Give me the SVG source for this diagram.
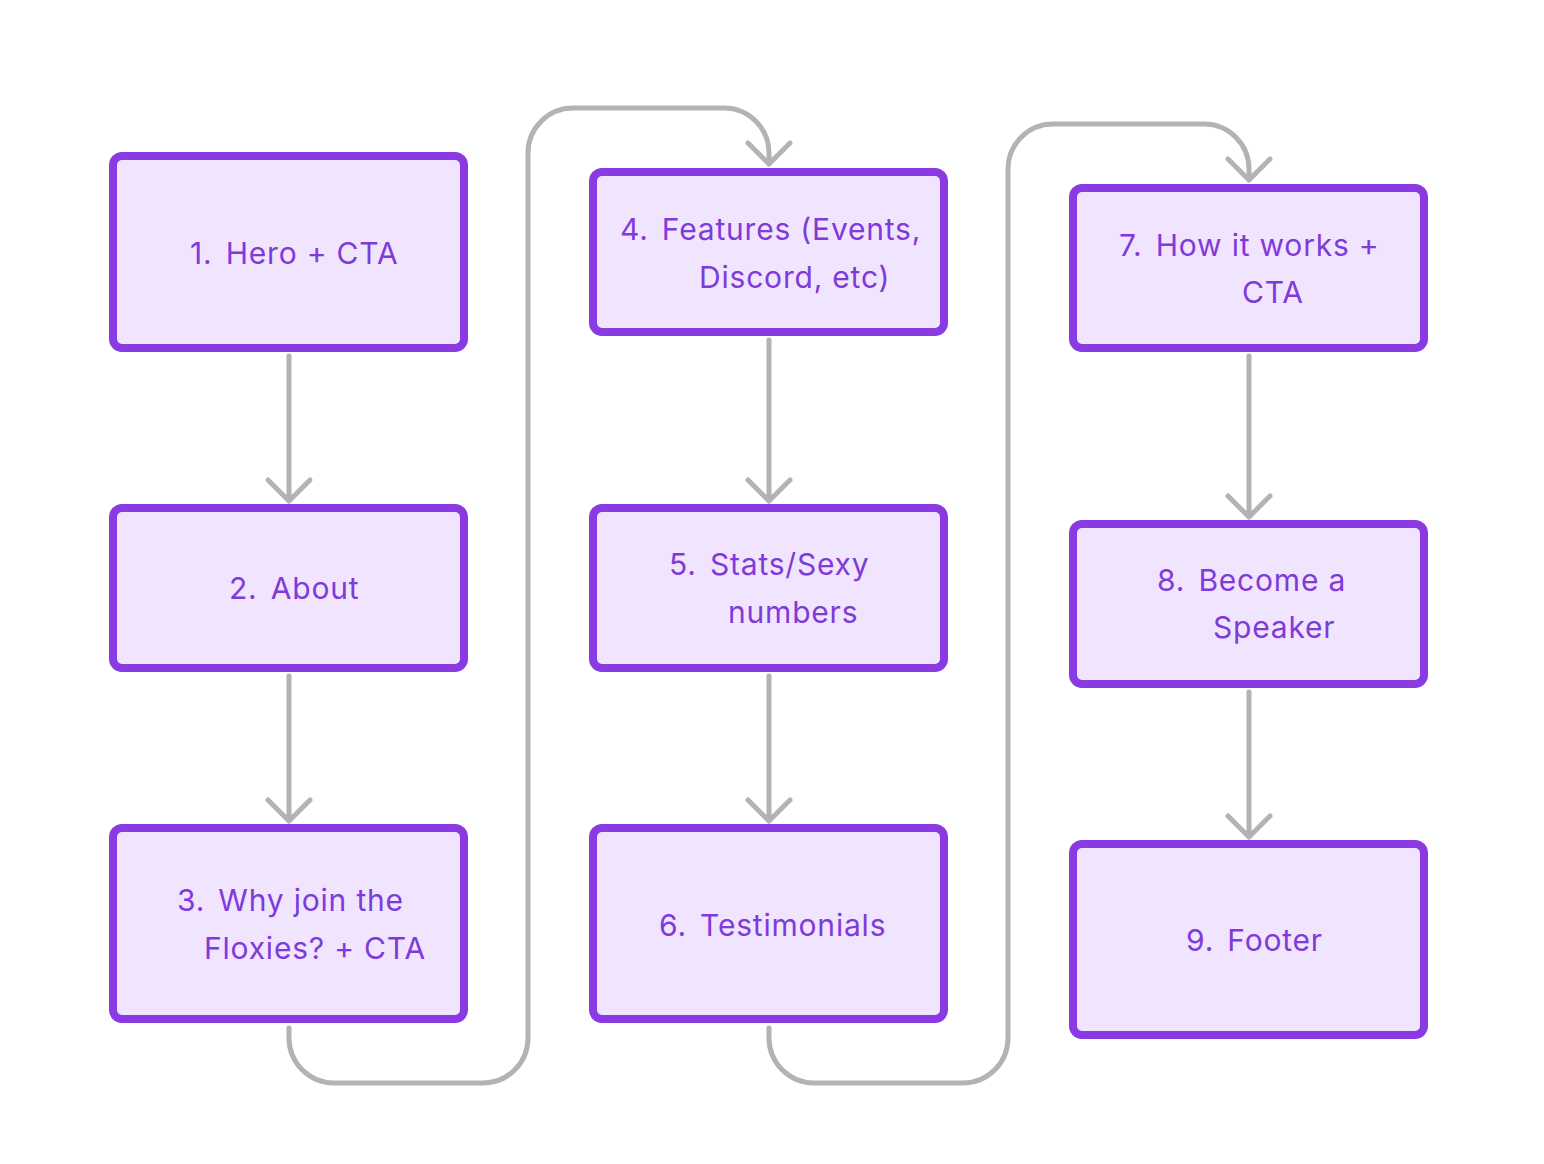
<svg xmlns="http://www.w3.org/2000/svg" width="1544" height="1164" viewBox="0 0 1544 1164">
<style>
.box{fill:#f0e4fe;stroke:#8a3ae3;stroke-width:8}
.lbl{font-family:Inter,"Noto Sans",sans-serif;font-size:30px;fill:#7f3ad9;letter-spacing:0.8px}
.con{fill:none;stroke:#b3b3b3;stroke-width:5;stroke-linecap:round;stroke-linejoin:round}
</style>
<rect width="1544" height="1164" fill="#ffffff"/>
<g id="connectors" class="con">
<path d="M289,356 V501 M268,480 L289,501 L310,480"/>
<path d="M289,676 V821 M268,800 L289,821 L310,800"/>
<path d="M769,340 V501 M748,480 L769,501 L790,480"/>
<path d="M769,676 V821 M748,800 L769,821 L790,800"/>
<path d="M1249,356 V517 M1228,496 L1249,517 L1270,496"/>
<path d="M1249,692 V837 M1228,816 L1249,837 L1270,816"/>
<path d="M289,1028 V1038 A45,45 0 0 0 334,1083 H483 A45,45 0 0 0 528,1038 V153 A45,45 0 0 1 573,108 H724 A45,45 0 0 1 769,153 V164 M748,143 L769,164 L790,143"/>
<path d="M769,1028 V1038 A45,45 0 0 0 814,1083 H963 A45,45 0 0 0 1008,1038 V169 A45,45 0 0 1 1053,124 H1204 A45,45 0 0 1 1249,169 V180 M1228,159 L1249,180 L1270,159"/>
</g>
<g id="node1"><rect class="box" x="113" y="156" width="351" height="192" rx="9"/><text class="lbl" x="190" y="264">1. <tspan dx="4">Hero + CTA</tspan></text></g>
<g id="node2"><rect class="box" x="113" y="508" width="351" height="160" rx="9"/><text class="lbl" x="229" y="599">2. <tspan dx="4">About</tspan></text></g>
<g id="node3"><rect class="box" x="113" y="828" width="351" height="191" rx="9"/><text class="lbl" x="177" y="911">3. <tspan dx="4">Why join the</tspan></text><text class="lbl" x="204" y="959">Floxies? + CTA</text></g>
<g id="node4"><rect class="box" x="593" y="172" width="351" height="160" rx="9"/><text class="lbl" x="620" y="240">4. <tspan dx="4">Features (Events,</tspan></text><text class="lbl" x="699" y="288">Discord, etc)</text></g>
<g id="node5"><rect class="box" x="593" y="508" width="351" height="160" rx="9"/><text class="lbl" x="669" y="575">5. <tspan dx="4">Stats/Sexy</tspan></text><text class="lbl" x="728" y="623">numbers</text></g>
<g id="node6"><rect class="box" x="593" y="828" width="351" height="191" rx="9"/><text class="lbl" x="659" y="936">6. <tspan dx="4">Testimonials</tspan></text></g>
<g id="node7"><rect class="box" x="1073" y="188" width="351" height="160" rx="9"/><text class="lbl" x="1119" y="256">7. <tspan dx="4">How it works +</tspan></text><text class="lbl" x="1242" y="303">CTA</text></g>
<g id="node8"><rect class="box" x="1073" y="524" width="351" height="160" rx="9"/><text class="lbl" x="1157" y="591">8. <tspan dx="4">Become a</tspan></text><text class="lbl" x="1213" y="638">Speaker</text></g>
<g id="node9"><rect class="box" x="1073" y="844" width="351" height="191" rx="9"/><text class="lbl" x="1186" y="951">9. <tspan dx="4">Footer</tspan></text></g>
</svg>
